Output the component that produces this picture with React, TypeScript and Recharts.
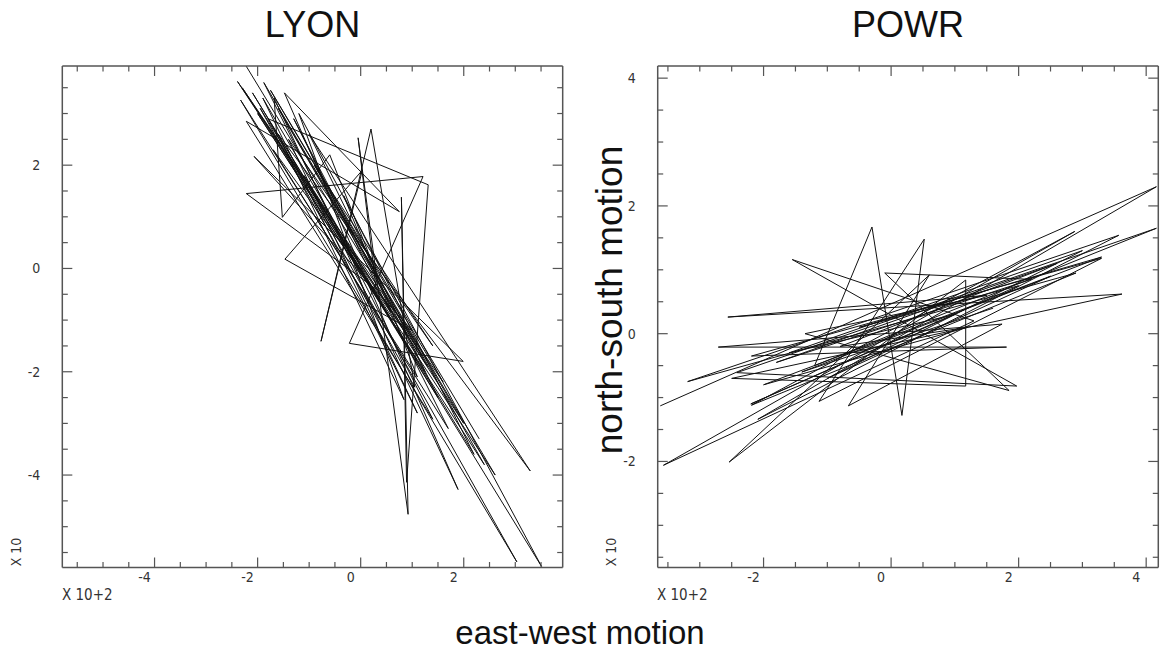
import { LineChart, Line, XAxis, YAxis } from 'recharts'

const stations = ['LYON', 'POWR']
const xTitle = 'east-west motion'
const yTitle = 'north-south motion'
const xScaleNote = 'X 10+2'
const yScaleNote = 'X 10'

// LYON trace, east-west (x 10^2) and north-south (x 10)
const lyonEast = [
  -2.26, 1.2, -2.39, 2.61, -1.88, 1.4, -2.22, 0.75, -1.48, 1.89,
  -1.68, -1.52, -0.6, 1.1, -2.33, 3.03, -1.8, 1.31, 0.89, 0.79,
  0.92, -0.05, 0.3, -2.22, 1.21, -0.22, 1.99, -2.07, 1.0, -1.47,
  0.03, -0.77, 0.2, 1.05, -1.95, 3.51, -1.2, 0.84, -1.6, 3.29,
  -1.0, 1.5, -2.1, 2.2, -0.33, 0.58, -1.7, 1.7, -1.3, 1.25,
  -2.0, 2.4, -0.9, 1.4, -1.4, 1.1, -1.9, 0.6, -1.1, 2.0,
  -1.6, 1.3, -2.3, 1.6, -1.75, 2.3,
]
const lyonNorth = [
  3.98, -1.7, 3.62, -4.0, 3.6, -2.92, 2.85, 1.1, 3.4, -4.28,
  3.3, 0.99, 2.2, -2.1, 3.26, -5.68, 2.9, 1.62, -4.14, 1.38,
  -4.76, 2.53, -0.4, 1.45, 1.78, -1.45, -1.8, 2.17, -1.2, 0.18,
  1.9, -1.41, 2.7, -2.3, 3.1, -5.77, 3.0, -2.54, 2.6, -3.92,
  2.6, -2.5, 3.4, -3.6, 1.41, -0.84, 2.3, -3.1, 2.9, -2.0,
  3.0, -3.8, 2.0, -1.5, 2.5, -2.8, 3.3, -1.0, 1.8, -3.0,
  3.1, -1.9, 3.5, -2.2, 3.45, -3.3,
]

// POWR trace
const powrEast = [
  -3.62, 4.16, -2.09, 3.57, -3.19, 2.9, -2.19, 2.88, -3.57, 1.3,
  -1.55, 1.97, -2.42, 4.16, -1.2, -0.3, 0.17, 0.52, -1.13, 3.3,
  -2.19, 1.81, -2.71, 1.74, -0.67, 0.6, -2.54, 1.17, 1.17, -2.5,
  3.62, -2.56, 1.5, -1.35, 1.85, -0.1, 2.2, -1.8, 2.6, -0.8,
  1.2, -2.0, 2.5, -1.0, 3.0, -1.6, 1.0, -2.2, 2.0, -0.5,
  3.3, -1.4, 1.6,
]
const powrNorth = [
  -1.13, 2.3, -1.34, 1.54, -0.75, 0.95, -1.12, 1.6, -2.06, 0.2,
  1.16, -0.82, -0.61, 1.65, -0.5, 1.67, -1.28, 1.48, -1.06, 1.18,
  -0.35, -0.21, -0.21, 0.15, -1.13, 0.92, -2.01, 0.84, -0.82, -0.7,
  0.62, 0.26, 0.6, 0.0, -0.89, 0.95, 0.85, -0.45, 1.1, -0.2,
  0.1, -0.8, 0.9, -0.7, 1.3, -0.3, 0.3, -1.1, 0.75, 0.1,
  1.2, -0.6, 0.4,
]

const lyonTicks = [-5.5, -5, -4.5, -4, -3.5, -3, -2.5, -2, -1.5, -1, -0.5, 0, 0.5, 1, 1.5, 2, 2.5, 3, 3.5]
const powrTicks = [-3.5, -3, -2.5, -2, -1.5, -1, -0.5, 0, 0.5, 1, 1.5, 2, 2.5, 3, 3.5, 4]
const lyonDomain = [-5.79, 3.92]
const powrDomain = [-3.66, 4.19]

const axisColor = '#555'
const tickFont = "'Liberation Sans Narrow', 'DejaVu Sans Condensed', 'Liberation Sans', sans-serif"
const titleFont = "'Liberation Sans', Arial, sans-serif"

const isMajor = (v: number) => Math.abs(v % 2) < 1e-9

function sideTick(side: 'bottom' | 'top' | 'left' | 'right') {
  return (props: any) => {
    const { x, y, payload } = props
    const v = payload.value
    const major = isMajor(v)
    const len = major ? 10 : 5.5
    const label = major ? String(v) : null
    if (side === 'bottom')
      return (
        <g>
          <line x1={x} y1={y} x2={x} y2={y - len} stroke={axisColor} strokeWidth={1.2} />
          {label && (
            <text x={x - 10} y={y + 15} textAnchor="middle" fontSize={14} fontFamily={tickFont} fill="#333">
              {label}
            </text>
          )}
        </g>
      )
    if (side === 'top')
      return <line x1={x} y1={y} x2={x} y2={y + len} stroke={axisColor} strokeWidth={1.2} />
    if (side === 'left')
      return (
        <g>
          <line x1={x} y1={y} x2={x + len} y2={y} stroke={axisColor} strokeWidth={1.2} />
          {label && (
            <text x={x - 22} y={y + 5} textAnchor="end" fontSize={14} fontFamily={tickFont} fill="#333">
              {label}
            </text>
          )}
        </g>
      )
    return <line x1={x} y1={y} x2={x - len} y2={y} stroke={axisColor} strokeWidth={1.2} />
  }
}

interface PanelProps {
  left: number
  width: number
  marginLeft: number
  marginRight: number
  east: number[]
  north: number[]
  ticks: number[]
  domain: number[]
}

function Panel({ left, width, marginLeft, marginRight, east, north, ticks, domain }: PanelProps) {
  const data = east.map((x, i) => ({ x, y: north[i] }))
  const axisLine = { stroke: axisColor, strokeWidth: 1.5 }
  return (
    <div style={{ position: 'absolute', left, top: 0 }}>
      <LineChart
        width={width}
        height={653}
        data={data}
        margin={{ top: 66, right: marginRight, bottom: 85.5, left: marginLeft }}
      >
        <XAxis xAxisId="b" dataKey="x" type="number" domain={domain} allowDataOverflow ticks={ticks} interval={0}
          orientation="bottom" height={0.01} tickSize={0} tickMargin={0} tickLine={false} axisLine={axisLine}
          tick={sideTick('bottom')} />
        <XAxis xAxisId="t" dataKey="x" type="number" domain={domain} allowDataOverflow ticks={ticks} interval={0}
          orientation="top" height={0.01} tickSize={0} tickMargin={0} tickLine={false} axisLine={axisLine}
          tick={sideTick('top')} />
        <YAxis yAxisId="l" dataKey="y" type="number" domain={domain} allowDataOverflow ticks={ticks} interval={0}
          orientation="left" width={0.01} tickSize={0} tickMargin={0} tickLine={false} axisLine={axisLine}
          tick={sideTick('left')} />
        <YAxis yAxisId="r" dataKey="y" type="number" domain={domain} allowDataOverflow ticks={ticks} interval={0}
          orientation="right" width={0.01} tickSize={0} tickMargin={0} tickLine={false} axisLine={axisLine}
          tick={sideTick('right')} />
        <Line xAxisId="b" yAxisId="l" type="linear" dataKey="y" stroke="#111" strokeWidth={1}
          dot={false} activeDot={false} isAnimationActive={false} />
        <Line xAxisId="t" yAxisId="r" type="linear" dataKey="y" stroke="none"
          dot={false} activeDot={false} isAnimationActive={false} />
      </LineChart>
    </div>
  )
}

export default function App() {
  return (
    <div style={{ position: 'absolute', left: 0, top: 0, width: 1161, height: 653, background: '#fff' }}>
      <Panel left={0} width={600} marginLeft={62.3} marginRight={37.3}
        east={lyonEast} north={lyonNorth} ticks={lyonTicks} domain={lyonDomain} />
      <Panel left={595} width={566} marginLeft={62.7} marginRight={2.7}
        east={powrEast} north={powrNorth} ticks={powrTicks} domain={powrDomain} />
      <svg width={1161} height={653} style={{ position: 'absolute', left: 0, top: 0, pointerEvents: 'none' }}>
        <text x={312.5} y={37} textAnchor="middle" fontSize={36} fontFamily={titleFont} fill="#111">{stations[0]}</text>
        <text x={908} y={37} textAnchor="middle" fontSize={36} fontFamily={titleFont} fill="#111">{stations[1]}</text>
        <text x={580} y={644} textAnchor="middle" fontSize={33} fontFamily={titleFont} fill="#111">{xTitle}</text>
        <text x={622} y={300} textAnchor="middle" fontSize={37} fontFamily={titleFont} fill="#111"
          transform="rotate(-90 622 300)">{yTitle}</text>
        <text x={62} y={600} fontSize={15} fontFamily={tickFont} fill="#333">{xScaleNote}</text>
        <text x={657} y={600} fontSize={15} fontFamily={tickFont} fill="#333">{xScaleNote}</text>
        <text x={21} y={552} textAnchor="middle" fontSize={14} fontFamily={tickFont} fill="#333"
          transform="rotate(-90 21 552)">{yScaleNote}</text>
        <text x={616} y={552} textAnchor="middle" fontSize={14} fontFamily={tickFont} fill="#333"
          transform="rotate(-90 616 552)">{yScaleNote}</text>
      </svg>
    </div>
  )
}
